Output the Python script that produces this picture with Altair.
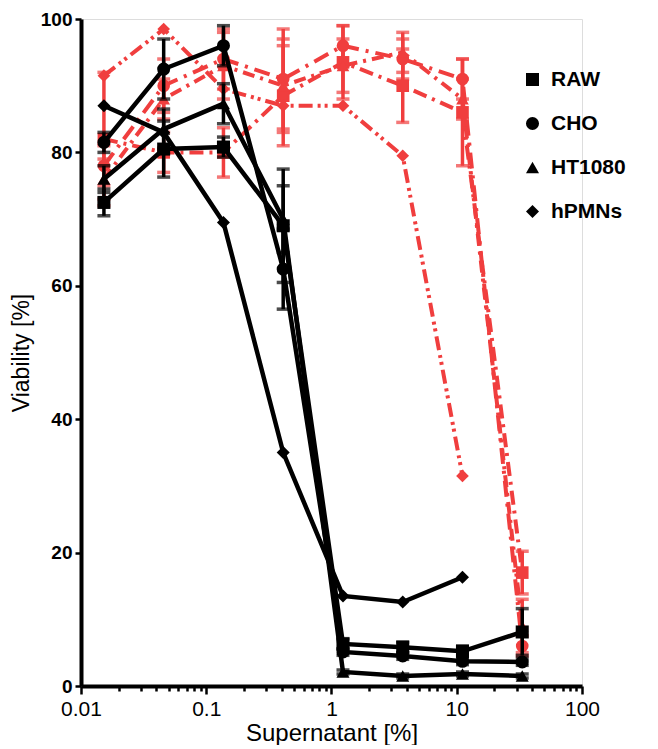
import altair as alt
import pandas as pd

# dilution series (Supernatant %)
conc = [0.01524, 0.04572, 0.1372, 0.4115, 1.235, 3.704, 11.11, 33.33]
cells = ["RAW", "CHO", "HT1080", "hPMNs"]

# black (solid) series
blk_raw = [72.5, 80.5, 80.8, 69.0, 6.3, 5.8, 5.2, 8.1]
blk_raw_err = [2.0, 4.2, 1.5, 8.5, 0.8, 0.8, 0.8, 3.5]
blk_cho = [81.5, 92.5, 96.0, 62.5, 5.1, 4.5, 3.7, 3.6]
blk_cho_err = [1.5, 4.5, 3.0, 6.0, 0.5, 0.5, 0.5, 0.5]
blk_ht = [76.0, 83.5, 87.3, 70.0, 2.1, 1.5, 1.8, 1.5]
blk_ht_err = [2.0, 3.0, 3.0, 5.0, 0.3, 0.3, 0.3, 0.3]
blk_pmn = [87.0, 83.0, 69.5, 35.0, 13.5, 12.6, 16.3]

# red (dash-dot) series
red_raw = [82.0, 80.0, 80.0, 88.5, 93.5, 90.0, 86.0, 17.0]
red_raw_err = [10.0, 3.0, 3.7, 7.5, 5.5, 5.5, 8.0, 3.2]
red_cho = [78.0, 90.0, 94.0, 91.0, 96.0, 94.0, 91.0, 6.0]
red_cho_err = [3.0, 4.0, 4.5, 7.5, 3.0, 3.0, 3.0, 1.5]
red_ht = [76.0, 88.0, 93.0, 90.0, 93.0, 95.0, 88.0, 9.0]
red_ht_err = [3.0, 3.0, 5.0, 7.0, 4.0, 3.0, 3.0, 4.0]
red_pmn = [91.5, 98.5, 89.5, 87.0, 87.0, 79.5, 31.5]

x_ticks = [0.01, 0.1, 1, 10, 100]
x_minor = [m * d for d in [0.01, 0.1, 1, 10] for m in range(2, 10)]
y_ticks = [0, 20, 40, 60, 80, 100]

RED = "#f03e3e"
FONT = "Liberation Sans"


def build(series, group):
    rows = []
    for cell, vals, errs in series:
        for i, v in enumerate(vals):
            e = errs[i] if errs else 0.0
            rows.append({"x": conc[i], "y": v, "lo": v - e, "hi": v + e,
                         "cell": cell, "dash": cell + "_d", "group": group,
                         "has_err": bool(errs)})
    return pd.DataFrame(rows)


blk = build([("RAW", blk_raw, blk_raw_err), ("CHO", blk_cho, blk_cho_err),
             ("HT1080", blk_ht, blk_ht_err), ("hPMNs", blk_pmn, None)], "ctrl")
red = build([("RAW", red_raw, red_raw_err), ("CHO", red_cho, red_cho_err),
             ("HT1080", red_ht, red_ht_err), ("hPMNs", red_pmn, None)], "treat")

xscale = alt.Scale(type="log", domain=[0.01, 100], nice=False)
yscale = alt.Scale(domain=[0, 100], nice=False)
shape_scale = alt.Scale(domain=cells, range=["square", "circle", "triangle-up", "diamond"])

decade_test = "abs(log(datum.value)/LN10 - round(log(datum.value)/LN10)) < 0.001"

xaxis = alt.Axis(values=x_ticks + x_minor, labelExpr=f"({decade_test}) ? datum.label : ''",
                 format="~g", title="Supernatant [%]", grid=False,
                 tickSize={"condition": {"test": decade_test, "value": 8}, "value": 5},
                 labelFontSize=21, titleFontSize=24, labelFont=FONT, titleFont=FONT,
                 titleFontWeight="normal",
                 labelColor="black", titleColor="black", domainColor="black", tickColor="black",
                 domainWidth=4, tickWidth=2.5, labelPadding=4, titlePadding=2,
                 labelFlush=False, labelOverlap=False)
yaxis = alt.Axis(values=y_ticks, title="Viability [%]", grid=False, tickSize=6,
                 labelFontSize=19, labelFontWeight="bold", titleFontSize=23,
                 titleFontWeight="normal",
                 labelFont=FONT, titleFont=FONT, labelColor="black", titleColor="black",
                 domainColor="black", tickColor="black", domainWidth=4, tickWidth=2.5,
                 labelPadding=3, titlePadding=7)

X = alt.X("x:Q", scale=xscale, axis=xaxis)
Y = alt.Y("y:Q", scale=yscale, axis=yaxis)

legend = alt.Legend(title=None, orient="none", legendX=441, legendY=50,
                    labelFontSize=21, labelFont=FONT, labelFontWeight="bold",
                    labelColor="black", symbolFillColor="black",
                    symbolStrokeColor="black", symbolSize=170, symbolStrokeWidth=0,
                    rowPadding=22, labelOffset=8)


def err_layers(df, color):
    d = df[df["has_err"]]
    base = alt.Chart(d)
    rule = base.mark_rule(color=color, strokeWidth=3.5).encode(
        x=alt.X("x:Q", scale=xscale), y=alt.Y("lo:Q", scale=yscale), y2="hi:Q")
    cap_lo = base.mark_tick(color=color, orient="horizontal", size=13, thickness=3.5).encode(
        x=alt.X("x:Q", scale=xscale), y=alt.Y("lo:Q", scale=yscale))
    cap_hi = base.mark_tick(color=color, orient="horizontal", size=13, thickness=3.5).encode(
        x=alt.X("x:Q", scale=xscale), y=alt.Y("hi:Q", scale=yscale))
    return [rule, cap_lo, cap_hi]


red_lines = alt.Chart(red).mark_line(color=RED, strokeWidth=4).encode(
    x=X, y=Y, detail="cell:N",
    strokeDash=alt.StrokeDash("dash:N", scale=alt.Scale(
        domain=[c + "_d" for c in cells],
        range=[[14, 6, 3, 6], [16, 7, 3, 7], [12, 6, 3, 6], [14, 5, 3, 4, 3, 5]]),
        legend=None))
red_pts = alt.Chart(red).mark_point(filled=True, color=RED, opacity=1, size=160).encode(
    x=X, y=Y, shape=alt.Shape("cell:N", scale=shape_scale, sort=cells, legend=None))

blk_lines = alt.Chart(blk).mark_line(color="black", strokeWidth=4.5).encode(
    x=X, y=Y, detail="cell:N")
blk_pts = alt.Chart(blk).mark_point(filled=True, color="black", opacity=1, size=170).encode(
    x=X, y=Y, shape=alt.Shape("cell:N", scale=shape_scale, sort=cells, legend=legend))

chart = alt.layer(
    *err_layers(red, RED), red_lines, red_pts,
    *err_layers(blk, "black"), blk_lines, blk_pts,
).resolve_scale(shape="independent").resolve_legend(shape="independent").properties(
    width=501, height=667).configure_view(stroke=None).configure(
    background="white", padding={"left": 2, "top": 2, "right": 5, "bottom": 0})

chart.save("out.html", embed_options={"renderer": "svg", "actions": False})
